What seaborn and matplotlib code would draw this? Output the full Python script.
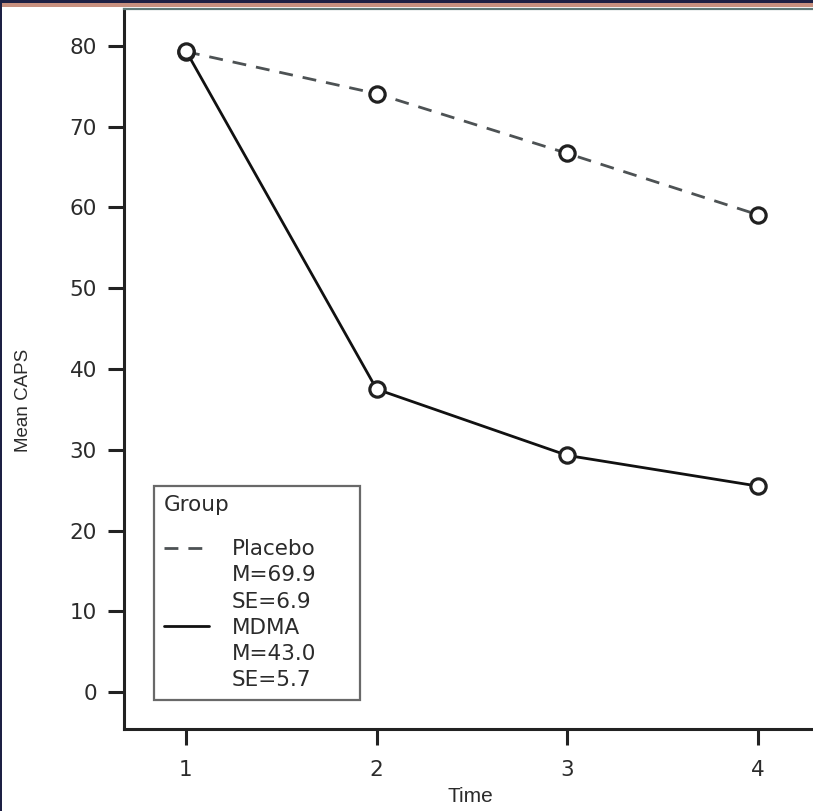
import matplotlib
matplotlib.use("Agg")
import matplotlib.pyplot as plt
from matplotlib.lines import Line2D
from matplotlib.patches import Rectangle
import seaborn as sns
import pandas as pd

# ---- data ----
times = [1, 2, 3, 4]
placebo = [79.3, 74.1, 66.7, 59.1]
mdma = [79.4, 37.5, 29.3, 25.5]
groups = ["Placebo", "MDMA"]
group_means = ["69.9", "43.0"]
group_ses = ["6.9", "5.7"]
yticks = [0, 10, 20, 30, 40, 50, 60, 70, 80]

df = pd.DataFrame({
    "Time": times * 2,
    "CAPS": placebo + mdma,
    "Group": ["Placebo"] * len(times) + ["MDMA"] * len(times),
})

sns.set_style("ticks")
plt.rcParams["font.family"] = ["DejaVu Sans"]
NARROW = ["Liberation Sans", "DejaVu Sans"]
TXT = "#2b2b2b"

W, H = 813, 811
fig = plt.figure(figsize=(W / 100, H / 100), dpi=100, facecolor="#1d2044")
# white page area
fig.patches.append(Rectangle((2 / W, 0), 1, 1 - 3 / H, transform=fig.transFigure,
                             facecolor="white", edgecolor="none", zorder=-10))
fig.patches.append(Rectangle((2 / W, 1 - 7 / H), 1, 4 / H, transform=fig.transFigure,
                             facecolor="#c8907f", edgecolor="none", zorder=-9))

left, right, bottom, top = 124, 830, 729, 9
ax = fig.add_axes([left / W, (H - bottom) / H, (right - left) / W, (bottom - top) / H])
ax.set_facecolor("white")

styles = {
    "Placebo": dict(color="#4d5254", linestyle=(0, (5, 3.6))),
    "MDMA": dict(color="#111111", linestyle="-"),
}
for g in groups:
    sub = df[df["Group"] == g]
    sns.lineplot(data=sub, x="Time", y="CAPS", ax=ax, legend=False,
                 color=styles[g]["color"], linestyle=styles[g]["linestyle"],
                 linewidth=2.0, marker="o", markersize=11,
                 markerfacecolor="white", markeredgecolor="#202020",
                 markeredgewidth=2.3)

ax.set_xlim(0.675, 4.378)
ax.set_ylim(-4.58, 84.58)
ax.set_xticks(times)
ax.set_yticks(yticks)
ax.tick_params(axis="both", direction="out", length=11.5, width=2.2,
               color="#222222", labelsize=15.5, labelcolor=TXT)
ax.tick_params(axis="y", pad=8)
ax.tick_params(axis="x", pad=11)
for s in ["left", "bottom"]:
    ax.spines[s].set_linewidth(2.2)
    ax.spines[s].set_color("#222222")
ax.spines["top"].set_linewidth(1.6)
ax.spines["top"].set_color("#5f7a78")
ax.spines["right"].set_visible(False)

ax.set_xlabel("Time", fontsize=15, color=TXT, family=NARROW)
ax.set_ylabel("Mean CAPS", fontsize=13.5, color=TXT, family=NARROW)
ax.xaxis.set_label_coords(0.49, -0.080)
ax.yaxis.set_label_coords(-0.130, 0.457)

# legend: one row per line of text, handle on the group-name row
handles, labels = [], []
for g, m, se in zip(groups, group_means, group_ses):
    st = styles[g]
    handles.append(Line2D([], [], color=st["color"], linestyle=st["linestyle"], linewidth=2.0))
    labels.append(g)
    handles.append(Line2D([], [], color="none"))
    labels.append(f"M={m}")
    handles.append(Line2D([], [], color="none"))
    labels.append(f"SE={se}")

fs = 15.5
ls = 0.29
bx0 = (154 - left) / (right - left)
bx1 = (360 - left) / (right - left)
by0 = (bottom - 700) / (bottom - top)
leg = ax.legend(handles, labels, title="Group", loc="lower left",
                bbox_to_anchor=(bx0, by0, bx1 - bx0, 0.25), mode="expand",
                borderaxespad=0, fontsize=fs,
                title_fontsize=fs, handlelength=2.1, handletextpad=1.05,
                labelspacing=ls, borderpad=0.45, frameon=True,
                fancybox=False, alignment="left", labelcolor=TXT)
leg._legend_box.sep = ls * fs + 12.5
leg.get_frame().set_edgecolor("#444444")
leg.get_frame().set_linewidth(1.6)
leg.get_title().set_color(TXT)

fig.savefig("out.png", dpi=100, facecolor=fig.get_facecolor())
